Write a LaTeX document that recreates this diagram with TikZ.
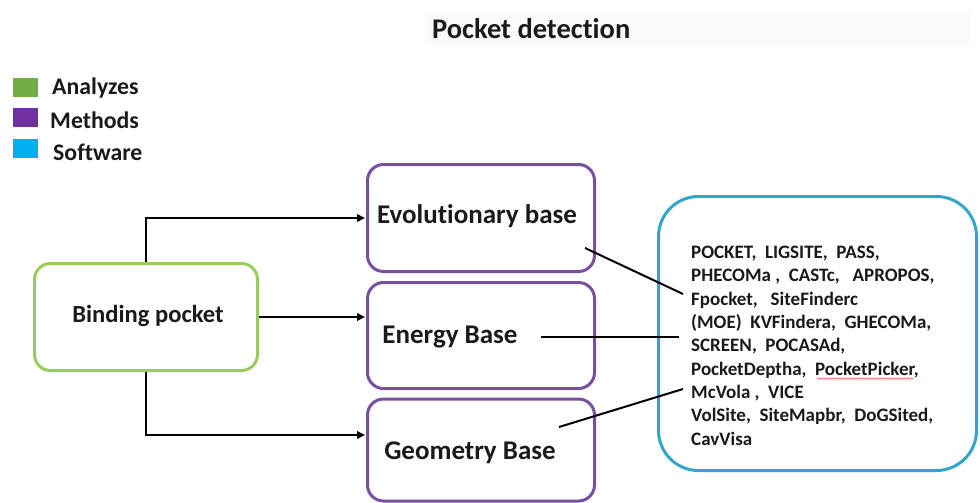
\documentclass[tikz,border=0pt]{standalone}
\usepackage{fontspec}
\setmainfont{Carlito}[Ligatures=NoCommon]
\usetikzlibrary{arrows.meta,calc,decorations.pathmorphing}
\definecolor{anagreen}{HTML}{70AD47}
\definecolor{boxgreen}{HTML}{98CC5C}
\definecolor{methpurple}{HTML}{7030A0}
\definecolor{boxpurple}{HTML}{7850A2}
\definecolor{softblue}{HTML}{00B0F0}
\definecolor{softedge}{HTML}{30A6CC}
\definecolor{bandgray}{HTML}{F9FAFB}
\definecolor{inkblack}{HTML}{1A1A1A}
\begin{document}
\begin{tikzpicture}[x=1pt,y=-1pt,
  every node/.style={text=inkblack},
  box/.style={draw, line width=3pt, rounded corners=16pt, fill=white, inner sep=0pt},
  methodbox/.style={box, draw=boxpurple, minimum width=227pt},
  lbl/.style={font=\fontsize{27}{32}\selectfont\bfseries, inner sep=0pt},
  legendsq/.style={inner sep=0pt, minimum width=25pt, minimum height=19pt},
  legendtxt/.style={font=\fontsize{23.8}{28}\selectfont\bfseries, anchor=west, inner sep=0pt},
  arr/.style={line width=2.6pt, draw=black, -{Triangle[length=8pt,width=7.5pt]}, shorten >=1pt},
  link/.style={line width=2pt, draw=black}
]
\useasboundingbox (0,0) rectangle (980,503);

% title band
\fill[bandgray] (425,11) rectangle (970,46);
\node[font=\fontsize{28.5}{34}\selectfont\bfseries, anchor=west, inner sep=0pt] (title) at (432,29) {Pocket detection};

% legend
\node[legendsq, fill=anagreen] (lgA) at (25.5,87.5) {};
\node[legendsq, fill=methpurple] (lgM) at (25.5,117.5) {};
\node[legendsq, fill=softblue] (lgS) at (25.5,148) {};
\node[legendtxt] (lgAt) at (52,88) {Analyzes};
\node[legendtxt] (lgMt) at (50,120) {Methods};
\node[legendtxt] (lgSt) at (53,152) {Software};

% analysis box
\node[box, draw=boxgreen, minimum width=223pt, minimum height=107pt] (bp) at (146,317) {};
\node[font=\fontsize{24.6}{30}\selectfont\bfseries, inner sep=0pt] (bpt) at (148,316) {Binding pocket};

% method boxes
\node[methodbox, minimum height=107pt] (evo) at (481,218) {};
\node[methodbox, minimum height=106pt] (ene) at (481,335.5) {};
\node[methodbox, minimum height=102pt] (geo) at (481,450) {};
\node[lbl] (evot) at (477,216) {Evolutionary base};
\node[lbl] (enet) at (450,337) {Energy Base};
\node[lbl] (geot) at (470,453) {Geometry Base};

% software box
\node[box, draw=softedge, rounded corners=40pt, minimum width=318pt, minimum height=274pt] (sw) at (817.5,333.5) {};
\node[anchor=north west, align=left, inner sep=0pt,
      font=\fontsize{19}{23.3}\selectfont\bfseries] (swt) at (691,246)
  {POCKET,\ \ LIGSITE,\ \ PASS,\\
   PHECOMa\ ,\ \ CASTc,\ \ \ APROPOS,\\
   Fpocket,\ \ \ SiteFinderc\\
   (MOE)\ \ KVFindera,\ \ GHECOMa,\\
   SCREEN,\ \ POCASAd,\\
   PocketDeptha,\ \ PocketPicker,\\
   McVola\ ,\ \ VICE\\
   VolSite,\ \ SiteMapbr,\ \ DoGSited,\\
   CavVisa};
\draw[red!70, line width=0.6pt, decorate,
      decoration={snake, amplitude=0.7pt, segment length=3pt}]
  (817,378.5) -- (913,378.5);

% arrows from the binding pocket to the methods
\draw[arr] (bp.north) |- (evo.west);
\draw[arr] (bp.east) -- (bp.east -| ene.west);
\draw[arr] (bp.south) |- ($(geo.west)+(0,-15)$);

% links from the methods to the software list
\coordinate (evotail) at (585,248);
\coordinate (enetail) at (541,337);
\coordinate (geotail) at (559,427);
\coordinate (swA) at (683,294);
\coordinate (swB) at (679,337);
\coordinate (swC) at (683,389);
\draw[link] (evotail) -- (swA);
\draw[link] (enetail) -- (swB);
\draw[link] (geotail) -- (swC);
\end{tikzpicture}
\end{document}
